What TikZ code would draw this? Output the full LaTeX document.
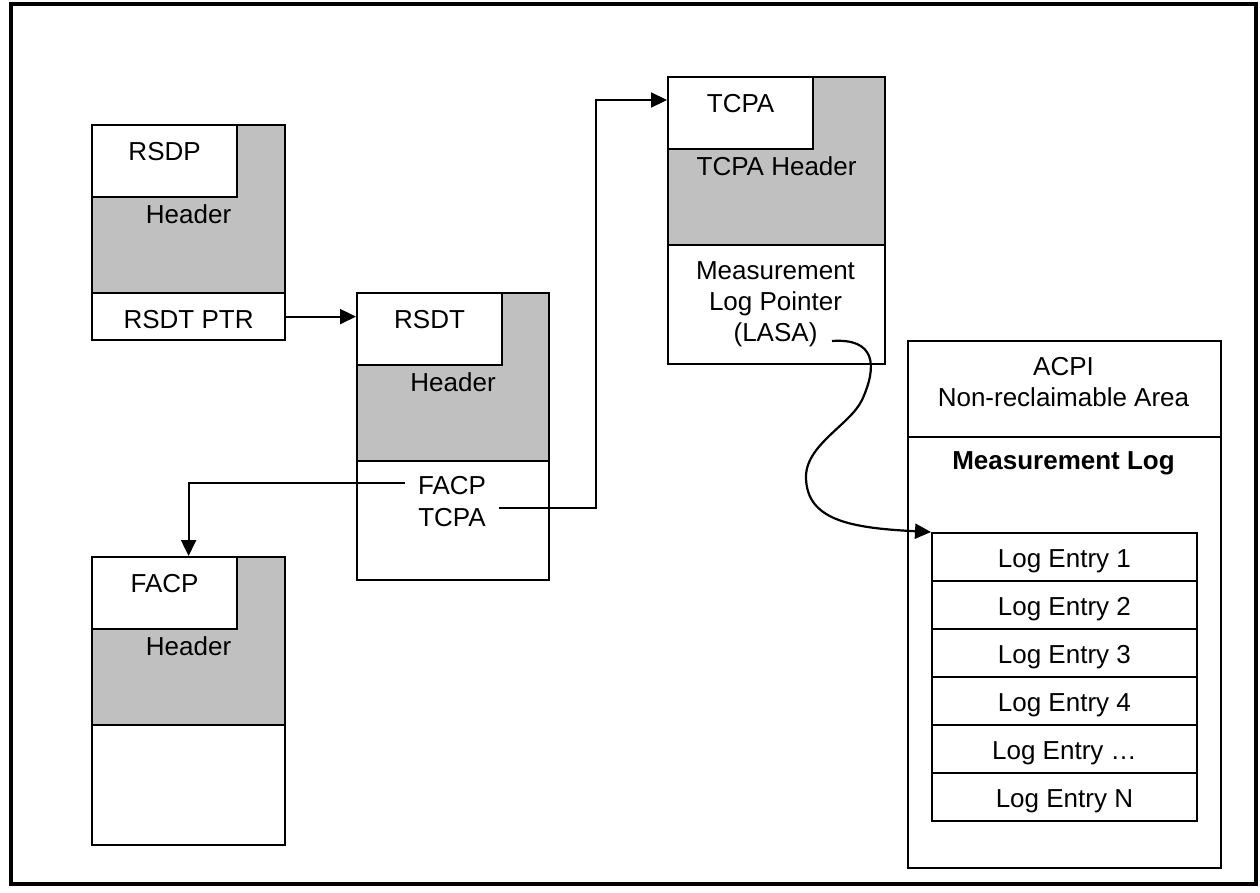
\documentclass[tikz,border=0pt]{standalone}
\usepackage{fontspec}
\setmainfont{Liberation Sans}
\usetikzlibrary{arrows.meta}
\definecolor{headgray}{RGB}{192,192,192}

\begin{document}
\begin{tikzpicture}[x=1pt, y=-1pt, font=\fontsize{26pt}{31pt}\selectfont]
\tikzstyle{headbox}=[draw, line width=2.2pt, fill=headgray, anchor=north west, inner sep=0pt, text height=98pt, text depth=70pt]
\tikzstyle{namebox}=[draw, line width=2.2pt, fill=white, anchor=north west, inner sep=0pt, minimum width=145pt, text height=35pt, text depth=37pt]
\tikzstyle{lowbox}=[draw, line width=2.2pt, fill=white, anchor=north west, inner sep=0pt]
\tikzstyle{area}=[draw, line width=1.8pt, anchor=north west, inner sep=0pt, minimum width=313pt]
\tikzstyle{entry}=[draw, line width=1.8pt, anchor=north west, inner sep=0pt, minimum width=265pt, text height=35pt, text depth=13pt]
\tikzstyle{ptr}=[line width=2.2pt, -{Triangle[length=16pt,width=15pt]}]
\useasboundingbox (0,0) rectangle (1260,892);
\draw[line width=4.5pt] (11,4) rectangle (1256,884);

% RSDP
\node[headbox, minimum width=193pt] (rsdp) at (91,124) {Header};
\node[namebox] (rsdpname) at (91,124) {RSDP};
\node[lowbox, minimum width=193pt, text height=35pt, text depth=12pt] (rsdpptr) at (91,292) {RSDT PTR};

% RSDT
\node[headbox, minimum width=192pt] (rsdt) at (356,292) {Header};
\node[namebox] (rsdtname) at (356,292) {RSDT};
\node[lowbox, minimum width=192pt, minimum height=119pt] (rsdtlow) at (356,460) {};
\node[anchor=base, inner sep=13pt] (facpptr) at (452,494) {FACP};
\node[anchor=base, inner sep=13pt] (tcpaptr) at (452,526) {TCPA};

% FACP
\node[headbox, minimum width=193pt] (facp) at (91,556) {Header};
\node[namebox] (facpname) at (91,556) {FACP};
\node[lowbox, minimum width=193pt, minimum height=120pt] (facplow) at (91,724) {};

% TCPA
\node[headbox, minimum width=217pt] (tcpa) at (667,76) {TCPA Header};
\node[namebox] (tcpaname) at (667,76) {TCPA};
\node[lowbox, minimum width=217pt, minimum height=119pt] (tcpalow) at (667,244) {};
\node[anchor=north, align=center, inner sep=0pt] (lasa) at (775.5,261) {Measurement\\Log Pointer\\(LASA)};
\coordinate (lasaout) at (832,341);

% ACPI area
\node[area, minimum height=527pt] (acpi) at (907,340) {};
\node[area, minimum height=96pt] (acpitop) at (907,340) {};
\node[anchor=north, align=center, inner sep=0pt] (acpitext) at (1063.5,357.5) {ACPI\\Non-reclaimable Area};
\node[anchor=base, font=\fontsize{26pt}{31pt}\selectfont\bfseries] (mlog) at (1063.5,469) {Measurement Log};

\node[entry] (log1) at (931,532) {Log Entry 1};
\node[entry] (log2) at (931,580) {Log Entry 2};
\node[entry] (log3) at (931,628) {Log Entry 3};
\node[entry] (log4) at (931,676) {Log Entry 4};
\node[entry] (log5) at (931,724) {Log Entry …};
\node[entry] (log6) at (931,772) {Log Entry N};

% pointers
\coordinate (turn) at (596,100);
\draw[ptr] (rsdpptr.east) -- (rsdpptr.east -| rsdt.west);
\draw[ptr] ([yshift=2pt]facpptr.west) -| (facp.north);
\draw[ptr] ([yshift=9pt]tcpaptr.east) -| (turn) -- (turn -| tcpa.west);
\draw[ptr] (lasaout) .. controls (875,338) and (878,365) .. (862,400)
  .. controls (850,425) and (805,445) .. (806,478)
  .. controls (807,520) and (850,528) .. (log1.north west);

\end{tikzpicture}
\end{document}
